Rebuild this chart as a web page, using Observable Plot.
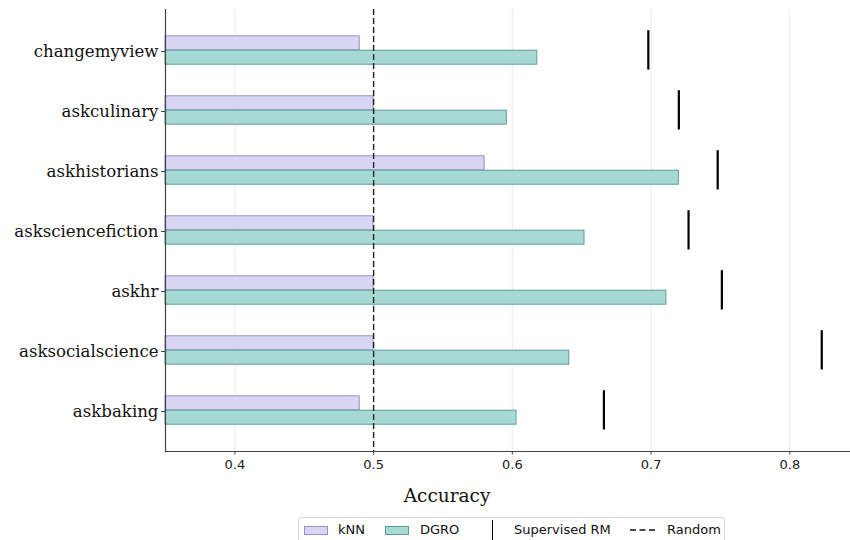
<!DOCTYPE html>
<html>
<head>
<meta charset="utf-8">
<script src="https://cdn.jsdelivr.net/npm/d3@7"></script>
<script src="https://cdn.jsdelivr.net/npm/@observablehq/plot@0.6"></script>
<style>
  html, body { margin: 0; padding: 0; background: #fff; }
  #wrap { position: relative; width: 850px; height: 540px; overflow: hidden; }
  #xlabel { position: absolute; left: 0; width: 894px; top: 485px; text-align: center;
            font-family: "DejaVu Serif", serif; font-size: 18.5px; color: #111; }
  #legend { position: absolute; left: 298px; top: 517px; width: 427px; height: 30px;
            border: 1px solid #d6d6d6; border-radius: 3px; box-sizing: border-box;
            font-family: "DejaVu Sans", sans-serif; font-size: 13px; color: #111; }
  #legend .it { position: absolute; top: 4px; line-height: 16px; }
  #legend .sw { position: absolute; top: 8px; width: 24px; height: 9px; box-sizing: border-box; }
</style>
</head>
<body>
<div id="wrap">
  <div id="chart"></div>
  <div id="xlabel">Accuracy</div>
  <div id="legend"></div>
</div>
<script>
const categories = ["changemyview", "askculinary", "askhistorians", "asksciencefiction", "askhr", "asksocialscience", "askbaking"];
const knn = [0.49, 0.50, 0.58, 0.50, 0.50, 0.50, 0.49];
const dgro = [0.618, 0.596, 0.720, 0.652, 0.711, 0.641, 0.603];
const supervisedRM = [0.698, 0.720, 0.748, 0.727, 0.751, 0.823, 0.666];
const randomBaseline = 0.5;
const xTicks = [0.4, 0.5, 0.6, 0.7, 0.8];
const xDomain = [0.35, 0.843];
const seriesNames = ["kNN", "DGRO", "Supervised RM", "Random"];

const colors = {
  knnFill: "#d9d6f3", knnStroke: "#9a90c8",
  dgroFill: "#a7dad5", dgroStroke: "#5e9d97"
};

const knnData = categories.map((c, i) => ({cat: c, v: knn[i]}));
const dgroData = categories.map((c, i) => ({cat: c, v: dgro[i]}));
const rmData = categories.map((c, i) => ({cat: c, v: supervisedRM[i]}));

const chart = Plot.plot({
  width: 850,
  height: 510,
  marginTop: 9,
  marginBottom: 59,
  marginLeft: 165,
  marginRight: 1,
  x: {domain: xDomain, ticks: xTicks, label: null},
  y: {domain: categories, type: "band", paddingInner: 0, paddingOuter: 0.163, label: null},
  marks: [
    Plot.ruleX(xTicks, {stroke: "#ebebeb", strokeWidth: 1}),
    Plot.barX(knnData, {y: "cat", x1: () => xDomain[0], x2: "v", fill: colors.knnFill, stroke: colors.knnStroke, strokeWidth: 1, insetTop: 15.8, insetBottom: 30.2}),
    Plot.barX(dgroData, {y: "cat", x1: () => xDomain[0], x2: "v", fill: colors.dgroFill, stroke: colors.dgroStroke, strokeWidth: 1, insetTop: 30.2, insetBottom: 15.8}),
    Plot.ruleX([randomBaseline], {stroke: "#222", strokeWidth: 1.4, strokeDasharray: "6,3"}),
    Plot.tickX(rmData, {y: "cat", x: "v", stroke: "#000", strokeWidth: 2.2, insetTop: 10.2, insetBottom: 10.5}),
    Plot.frame({anchor: "left", stroke: "#444", strokeWidth: 1.2}),
    Plot.frame({anchor: "bottom", stroke: "#444", strokeWidth: 1.2}),
    Plot.axisX({ticks: xTicks, tickFormat: d => d.toFixed(1), tickSize: 3.5, tickPadding: 5,
      fontFamily: "DejaVu Sans, sans-serif", fontSize: 13, fill: "#222", stroke: "#444", label: null}),
    Plot.axisY({tickSize: 4, tickPadding: 3, fontFamily: "DejaVu Serif, serif", fontSize: 16.6, fill: "#111", stroke: "#444", label: null, dy: 1})
  ],
  style: {background: "#fff", overflow: "visible"}
});
document.getElementById("chart").appendChild(chart);

// legend
const lg = document.getElementById("legend");
function add(html) { lg.insertAdjacentHTML("beforeend", html); }
add(`<div class="sw" style="left:5px;background:${colors.knnFill};border:1px solid ${colors.knnStroke}"></div>`);
add(`<div class="it" style="left:39px">${seriesNames[0]}</div>`);
add(`<div class="sw" style="left:86px;background:${colors.dgroFill};border:1px solid ${colors.dgroStroke}"></div>`);
add(`<div class="it" style="left:121px">${seriesNames[1]}</div>`);
add(`<div style="position:absolute;left:193px;top:2px;width:0;height:20px;border-left:1.3px solid #000"></div>`);
add(`<div class="it" style="left:215px">${seriesNames[2]}</div>`);
add(`<svg style="position:absolute;left:331px;top:8px" width="28" height="8"><line x1="0" x2="25" y1="4" y2="4" stroke="#111" stroke-width="1.4" stroke-dasharray="6,3.5"/></svg>`);
add(`<div class="it" style="left:368px">${seriesNames[3]}</div>`);
</script>
</body>
</html>
